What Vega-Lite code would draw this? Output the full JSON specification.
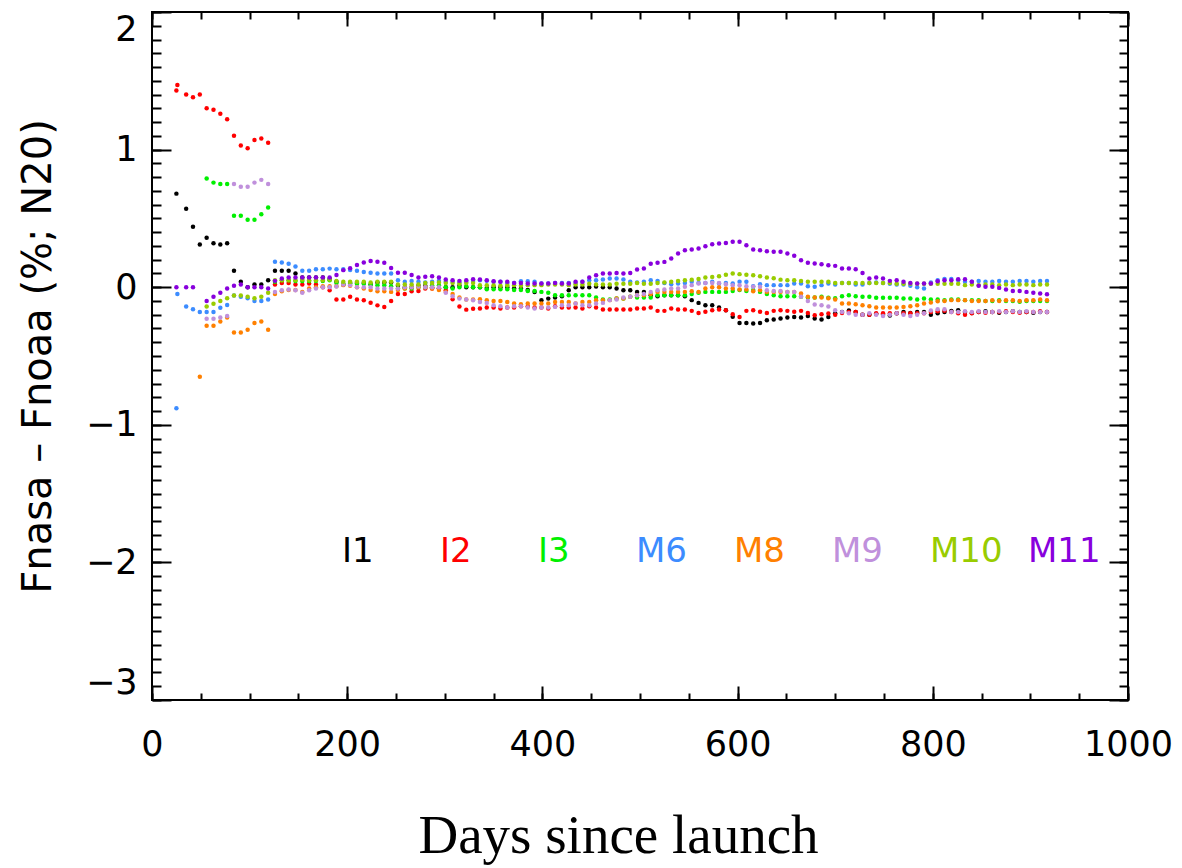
{
"$schema": "https://vega.github.io/schema/vega-lite/v6.json",
"width": 976, "height": 688,
"autosize": {"type": "none"},
"padding": {"left": 152, "top": 12, "right": 54, "bottom": 168},
"background": "white",
"config": {"view": {"stroke": "black", "strokeWidth": 2}, "font": "DejaVu Sans", "axis": {"labelColor": "black", "titleColor": "black", "labelFont": "DejaVu Sans"}},
"data": {"values": [
{"d":25,"I1":0.68,"I2":1.43,"M6":-0.88,"M11":0.0},
{"d":26,"I2":1.47,"M6":-0.05},
{"d":35,"I1":0.57,"I2":1.40,"M6":-0.14,"M11":0.0},
{"d":42,"I1":0.44,"I2":1.38,"M6":-0.16,"M11":0.0},
{"d":49,"I1":0.31,"I2":1.40,"M6":-0.18,"M8":-0.65},
{"d":56,"I1":0.36,"I2":1.30,"I3":0.79,"M6":-0.18,"M8":-0.28,"M9":-0.23,"M10":-0.14,"M11":-0.10},
{"d":63,"I1":0.32,"I2":1.29,"I3":0.76,"M6":-0.18,"M8":-0.28,"M9":-0.23,"M10":-0.12,"M11":-0.07},
{"d":70,"I1":0.31,"I2":1.26,"I3":0.75,"M6":-0.15,"M8":-0.25,"M9":-0.22,"M10":-0.10,"M11":-0.04},
{"d":77,"I1":0.32,"I2":1.22,"I3":0.75,"M6":-0.13,"M8":-0.22,"M9":-0.21,"M10":-0.08,"M11":-0.01},
{"d":84,"I1":0.12,"I2":1.10,"I3":0.52,"M6":-0.06,"M8":-0.33,"M9":0.75,"M10":-0.06,"M11":0.01},
{"d":91,"I1":0.04,"I2":1.03,"I3":0.52,"M6":-0.07,"M8":-0.33,"M9":0.73,"M10":-0.06,"M11":0.02},
{"d":98,"I1":0.0,"I2":1.01,"I3":0.49,"M6":-0.08,"M8":-0.31,"M9":0.73,"M10":-0.07,"M11":0.0},
{"d":105,"I1":0.02,"I2":1.07,"I3":0.49,"M6":-0.10,"M8":-0.26,"M9":0.76,"M10":-0.08,"M11":0.0},
{"d":112,"I1":0.02,"I2":1.08,"I3":0.53,"M6":-0.10,"M8":-0.25,"M9":0.78,"M10":-0.07,"M11":0.0},
{"d":119,"I1":0.05,"I2":1.05,"I3":0.58,"M6":-0.09,"M8":-0.31,"M9":0.75,"M10":-0.04,"M11":-0.01},
{"d":126,"I1":0.12,"I2":0.02,"I3":0.04,"M6":0.185,"M8":-0.05,"M9":-0.035,"M10":0.05,"M11":0.046},
{"d":133,"I1":0.12,"I2":0.03,"I3":0.05,"M6":0.18,"M8":-0.03,"M9":-0.022,"M10":0.05,"M11":0.063},
{"d":140,"I1":0.12,"I2":0.03,"I3":0.05,"M6":0.17,"M8":-0.02,"M9":-0.017,"M10":0.05,"M11":0.07},
{"d":147,"I1":0.10,"I2":0.02,"I3":0.045,"M6":0.15,"M8":-0.02,"M9":-0.022,"M10":0.05,"M11":0.07},
{"d":154,"I1":0.07,"I2":0.02,"I3":0.045,"M6":0.12,"M8":-0.034,"M9":-0.041,"M10":0.055,"M11":0.07},
{"d":161,"I1":0.07,"I2":0.027,"I3":0.045,"M6":0.12,"M8":-0.01,"M9":-0.022,"M10":0.05,"M11":0.07},
{"d":168,"I1":0.07,"I2":0.02,"I3":0.045,"M6":0.13,"M8":0.0,"M9":-0.01,"M10":0.05,"M11":0.07},
{"d":175,"I1":0.07,"I2":0.0,"I3":0.045,"M6":0.13,"M8":0.007,"M9":0.0,"M10":0.05,"M11":0.07},
{"d":182,"I1":0.06,"I2":-0.022,"I3":0.05,"M6":0.135,"M8":0.007,"M9":0.0,"M10":0.055,"M11":0.07},
{"d":189,"I1":0.04,"I2":-0.09,"I3":0.03,"M6":0.13,"M8":0.007,"M9":0.005,"M10":0.045,"M11":0.088},
{"d":196,"I1":0.02,"I2":-0.09,"I3":0.025,"M6":0.13,"M8":0.015,"M9":0.02,"M10":0.04,"M11":0.124},
{"d":203,"I1":0.03,"I2":-0.07,"I3":0.025,"M6":0.125,"M8":0.01,"M9":0.015,"M10":0.04,"M11":0.137},
{"d":210,"I1":0.03,"I2":-0.09,"I3":0.025,"M6":0.12,"M8":0.0,"M9":0.0,"M10":0.04,"M11":0.161},
{"d":217,"I1":0.03,"I2":-0.095,"I3":0.025,"M6":0.11,"M8":-0.01,"M9":0.0,"M10":0.04,"M11":0.18},
{"d":224,"I1":0.02,"I2":-0.113,"I3":0.02,"M6":0.105,"M8":-0.02,"M9":0.0,"M10":0.035,"M11":0.19},
{"d":231,"I1":0.035,"I2":-0.132,"I3":0.015,"M6":0.10,"M8":-0.03,"M9":-0.01,"M10":0.04,"M11":0.185},
{"d":238,"I1":0.035,"I2":-0.144,"I3":0.015,"M6":0.10,"M8":-0.03,"M9":-0.01,"M10":0.04,"M11":0.178},
{"d":245,"I1":0.035,"I2":-0.10,"I3":0.007,"M6":0.10,"M8":-0.034,"M9":-0.01,"M10":0.04,"M11":0.139},
{"d":252,"I1":0.01,"I2":-0.05,"I3":-0.01,"M6":0.05,"M8":-0.02,"M9":-0.01,"M10":0.02,"M11":0.105},
{"d":259,"I1":0.0,"I2":-0.05,"I3":-0.01,"M6":0.04,"M8":-0.01,"M9":0.0,"M10":0.02,"M11":0.105},
{"d":266,"I1":0.0,"I2":-0.03,"I3":-0.01,"M6":0.045,"M8":0.0,"M9":0.0,"M10":0.02,"M11":0.088},
{"d":273,"I1":0.01,"I2":-0.027,"I3":0.0,"M6":0.04,"M8":0.0,"M9":0.005,"M10":0.02,"M11":0.07},
{"d":280,"I1":0.01,"I2":-0.01,"I3":0.0,"M6":0.035,"M8":0.0,"M9":0.0,"M10":0.03,"M11":0.076},
{"d":287,"I1":0.0,"I2":-0.01,"I3":0.015,"M6":0.04,"M8":-0.01,"M9":0.0,"M10":0.03,"M11":0.08},
{"d":294,"I1":-0.01,"I2":-0.01,"I3":0.015,"M6":0.045,"M8":-0.02,"M9":0.0,"M10":0.035,"M11":0.07},
{"d":301,"I1":0.0,"I2":-0.022,"I3":0.0,"M6":0.04,"M8":-0.034,"M9":-0.04,"M10":0.03,"M11":0.056},
{"d":308,"I1":0.0,"I2":-0.088,"I3":-0.01,"M6":0.04,"M8":-0.05,"M9":-0.066,"M10":0.03,"M11":0.051},
{"d":315,"I1":0.01,"I2":-0.14,"I3":0.0,"M6":0.035,"M8":-0.075,"M9":-0.083,"M10":0.025,"M11":0.046},
{"d":322,"I1":0.0,"I2":-0.163,"I3":0.007,"M6":0.04,"M8":-0.09,"M9":-0.09,"M10":0.03,"M11":0.051},
{"d":329,"I1":0.0,"I2":-0.156,"I3":0.0,"M6":0.045,"M8":-0.09,"M9":-0.095,"M10":0.03,"M11":0.058},
{"d":336,"I1":0.0,"I2":-0.155,"I3":0.0,"M6":0.05,"M8":-0.087,"M9":-0.107,"M10":0.015,"M11":0.056},
{"d":343,"I1":-0.005,"I2":-0.148,"I3":-0.015,"M6":0.046,"M8":-0.094,"M9":-0.114,"M10":0.015,"M11":0.051},
{"d":350,"I1":0.0,"I2":-0.148,"I3":-0.015,"M6":0.039,"M8":-0.1,"M9":-0.131,"M10":0.015,"M11":0.044},
{"d":357,"I1":0.0,"I2":-0.155,"I3":-0.015,"M6":0.039,"M8":-0.1,"M9":-0.138,"M10":0.01,"M11":0.039},
{"d":364,"I1":0.0,"I2":-0.148,"I3":-0.015,"M6":0.031,"M8":-0.107,"M9":-0.148,"M10":0.015,"M11":0.039},
{"d":371,"I1":-0.01,"I2":-0.148,"I3":-0.02,"M6":0.031,"M8":-0.119,"M9":-0.138,"M10":0.015,"M11":0.031},
{"d":378,"I1":-0.01,"I2":-0.138,"I3":-0.02,"M6":0.044,"M8":-0.124,"M9":-0.138,"M10":0.01,"M11":0.031},
{"d":385,"I1":-0.02,"I2":-0.138,"I3":-0.027,"M6":0.044,"M8":-0.119,"M9":-0.148,"M10":0.015,"M11":0.027},
{"d":392,"I1":-0.035,"I2":-0.148,"I3":-0.027,"M6":0.039,"M8":-0.119,"M9":-0.155,"M10":0.015,"M11":0.027},
{"d":399,"I1":-0.095,"I2":-0.148,"I3":-0.034,"M6":0.027,"M8":-0.119,"M9":-0.148,"M10":0.015,"M11":0.027},
{"d":406,"I1":-0.083,"I2":-0.155,"I3":-0.041,"M6":0.027,"M8":-0.119,"M9":-0.148,"M10":0.02,"M11":0.027},
{"d":413,"I1":-0.075,"I2":-0.138,"I3":-0.058,"M6":0.031,"M8":-0.107,"M9":-0.143,"M10":0.02,"M11":0.031},
{"d":420,"I1":-0.065,"I2":-0.148,"I3":-0.058,"M6":0.031,"M8":-0.107,"M9":-0.131,"M10":0.02,"M11":0.027},
{"d":427,"I1":-0.022,"I2":-0.148,"I3":-0.058,"M6":0.031,"M8":-0.107,"M9":-0.131,"M10":0.015,"M11":0.027},
{"d":434,"I1":0.0,"I2":-0.148,"I3":-0.058,"M6":0.031,"M8":-0.119,"M9":-0.119,"M10":0.02,"M11":0.039},
{"d":441,"I1":0.0,"I2":-0.155,"I3":-0.058,"M6":0.039,"M8":-0.107,"M9":-0.131,"M10":0.02,"M11":0.039},
{"d":448,"I1":0.0,"I2":-0.138,"I3":-0.058,"M6":0.05,"M8":-0.107,"M9":-0.131,"M10":0.025,"M11":0.07},
{"d":455,"I1":0.005,"I2":-0.148,"I3":-0.075,"M6":0.05,"M8":-0.094,"M9":-0.119,"M10":0.02,"M11":0.087},
{"d":462,"I1":0.0,"I2":-0.162,"I3":-0.09,"M6":0.056,"M8":-0.094,"M9":-0.114,"M10":0.02,"M11":0.10},
{"d":469,"I1":0.0,"I2":-0.162,"I3":-0.09,"M6":0.063,"M8":-0.094,"M9":-0.094,"M10":0.02,"M11":0.10},
{"d":476,"I1":-0.01,"I2":-0.162,"I3":-0.082,"M6":0.063,"M8":-0.082,"M9":-0.09,"M10":0.025,"M11":0.104},
{"d":483,"I1":-0.022,"I2":-0.162,"I3":-0.082,"M6":0.056,"M8":-0.082,"M9":-0.075,"M10":0.025,"M11":0.10},
{"d":490,"I1":-0.022,"I2":-0.162,"I3":-0.07,"M6":0.039,"M8":-0.07,"M9":-0.07,"M10":0.025,"M11":0.104},
{"d":497,"I1":-0.034,"I2":-0.155,"I3":-0.075,"M6":0.034,"M8":-0.058,"M9":-0.058,"M10":0.03,"M11":0.128},
{"d":504,"I1":-0.034,"I2":-0.155,"I3":-0.075,"M6":0.039,"M8":-0.058,"M9":-0.05,"M10":0.025,"M11":0.136},
{"d":511,"I1":-0.058,"I2":-0.148,"I3":-0.075,"M6":0.05,"M8":-0.05,"M9":-0.034,"M10":0.025,"M11":0.17},
{"d":518,"I1":-0.065,"I2":-0.172,"I3":-0.058,"M6":0.046,"M8":-0.034,"M9":-0.022,"M10":0.03,"M11":0.177},
{"d":525,"I1":-0.058,"I2":-0.172,"I3":-0.058,"M6":0.031,"M8":-0.034,"M9":-0.017,"M10":0.035,"M11":0.184},
{"d":532,"I1":-0.058,"I2":-0.155,"I3":-0.058,"M6":0.022,"M8":-0.034,"M9":-0.01,"M10":0.04,"M11":0.208},
{"d":539,"I1":-0.058,"I2":-0.162,"I3":-0.058,"M6":0.027,"M8":-0.034,"M9":-0.01,"M10":0.045,"M11":0.245},
{"d":546,"I1":-0.065,"I2":-0.162,"I3":-0.058,"M6":0.031,"M8":-0.034,"M9":0.003,"M10":0.05,"M11":0.269},
{"d":553,"I1":-0.094,"I2":-0.172,"I3":-0.05,"M6":0.039,"M8":-0.029,"M9":0.015,"M10":0.055,"M11":0.274},
{"d":560,"I1":-0.114,"I2":-0.187,"I3":-0.041,"M6":0.031,"M8":-0.034,"M9":0.027,"M10":0.06,"M11":0.281},
{"d":567,"I1":-0.131,"I2":-0.179,"I3":-0.034,"M6":0.031,"M8":-0.01,"M9":0.031,"M10":0.07,"M11":0.298},
{"d":574,"I1":-0.131,"I2":-0.167,"I3":-0.034,"M6":0.039,"M8":0.0,"M9":0.031,"M10":0.075,"M11":0.312},
{"d":581,"I1":-0.148,"I2":-0.162,"I3":-0.034,"M6":0.027,"M8":0.0,"M9":0.031,"M10":0.08,"M11":0.317},
{"d":588,"I1":-0.167,"I2":-0.167,"I3":-0.034,"M6":0.031,"M8":-0.01,"M9":0.022,"M10":0.09,"M11":0.322},
{"d":595,"I1":-0.215,"I2":-0.196,"I3":-0.027,"M6":0.027,"M8":-0.01,"M9":0.015,"M10":0.10,"M11":0.33},
{"d":602,"I1":-0.26,"I2":-0.216,"I3":-0.02,"M6":0.039,"M8":-0.017,"M9":0.015,"M10":0.095,"M11":0.33},
{"d":609,"I1":-0.26,"I2":-0.172,"I3":-0.027,"M6":0.039,"M8":-0.017,"M9":0.007,"M10":0.09,"M11":0.305},
{"d":616,"I1":-0.264,"I2":-0.167,"I3":-0.02,"M6":0.007,"M8":-0.029,"M9":0.003,"M10":0.087,"M11":0.274},
{"d":623,"I1":-0.26,"I2":-0.179,"I3":-0.034,"M6":0.022,"M8":-0.022,"M9":0.003,"M10":0.08,"M11":0.269},
{"d":630,"I1":-0.24,"I2":-0.187,"I3":-0.05,"M6":0.015,"M8":-0.034,"M9":-0.022,"M10":0.07,"M11":0.262},
{"d":637,"I1":-0.235,"I2":-0.172,"I3":-0.058,"M6":0.015,"M8":-0.034,"M9":-0.027,"M10":0.065,"M11":0.257},
{"d":644,"I1":-0.228,"I2":-0.167,"I3":-0.065,"M6":0.015,"M8":-0.034,"M9":-0.027,"M10":0.055,"M11":0.257},
{"d":651,"I1":-0.22,"I2":-0.172,"I3":-0.065,"M6":0.015,"M8":-0.034,"M9":-0.034,"M10":0.05,"M11":0.245},
{"d":658,"I1":-0.216,"I2":-0.179,"I3":-0.065,"M6":0.027,"M8":-0.034,"M9":-0.034,"M10":0.05,"M11":0.228},
{"d":665,"I1":-0.22,"I2":-0.172,"I3":-0.07,"M6":0.027,"M8":-0.046,"M9":-0.07,"M10":0.045,"M11":0.196},
{"d":672,"I1":-0.21,"I2":-0.187,"I3":-0.075,"M6":0.007,"M8":-0.07,"M9":-0.1,"M10":0.04,"M11":0.177},
{"d":679,"I1":-0.228,"I2":-0.204,"I3":-0.075,"M6":0.003,"M8":-0.075,"M9":-0.125,"M10":0.04,"M11":0.172},
{"d":686,"I1":-0.235,"I2":-0.196,"I3":-0.07,"M6":0.015,"M8":-0.075,"M9":-0.131,"M10":0.04,"M11":0.167},
{"d":693,"I1":-0.216,"I2":-0.191,"I3":-0.077,"M6":0.027,"M8":-0.08,"M9":-0.14,"M10":0.04,"M11":0.16},
{"d":700,"I1":-0.19,"I2":-0.2,"I3":-0.08,"M6":0.02,"M8":-0.09,"M9":-0.167,"M10":0.03,"M11":0.155},
{"d":707,"I1":-0.18,"I2":-0.187,"I3":-0.065,"M6":0.03,"M8":-0.119,"M9":-0.18,"M10":0.03,"M11":0.136},
{"d":714,"I1":-0.17,"I2":-0.18,"I3":-0.058,"M6":0.03,"M8":-0.119,"M9":-0.19,"M10":0.03,"M11":0.136},
{"d":721,"I1":-0.18,"I2":-0.18,"I3":-0.065,"M6":0.02,"M8":-0.124,"M9":-0.2,"M10":0.03,"M11":0.131},
{"d":728,"I1":-0.2,"I2":-0.2,"I3":-0.07,"M6":0.02,"M8":-0.131,"M9":-0.2,"M10":0.03,"M11":0.104},
{"d":735,"I1":-0.2,"I2":-0.2,"I3":-0.07,"M6":0.03,"M8":-0.138,"M9":-0.19,"M10":0.03,"M11":0.063},
{"d":742,"I1":-0.195,"I2":-0.19,"I3":-0.077,"M6":0.035,"M8":-0.148,"M9":-0.2,"M10":0.03,"M11":0.07},
{"d":749,"I1":-0.2,"I2":-0.19,"I3":-0.077,"M6":0.03,"M8":-0.148,"M9":-0.21,"M10":0.03,"M11":0.063},
{"d":756,"I1":-0.205,"I2":-0.19,"I3":-0.077,"M6":0.025,"M8":-0.148,"M9":-0.2,"M10":0.03,"M11":0.046},
{"d":763,"I1":-0.19,"I2":-0.19,"I3":-0.077,"M6":0.02,"M8":-0.148,"M9":-0.19,"M10":0.025,"M11":0.05},
{"d":770,"I1":-0.18,"I2":-0.19,"I3":-0.082,"M6":0.02,"M8":-0.143,"M9":-0.2,"M10":0.025,"M11":0.039},
{"d":777,"I1":-0.187,"I2":-0.19,"I3":-0.082,"M6":0.01,"M8":-0.138,"M9":-0.21,"M10":0.025,"M11":0.031},
{"d":784,"I1":-0.18,"I2":-0.19,"I3":-0.09,"M6":0.0,"M8":-0.131,"M9":-0.2,"M10":0.025,"M11":0.027},
{"d":791,"I1":-0.18,"I2":-0.19,"I3":-0.082,"M6":-0.01,"M8":-0.119,"M9":-0.19,"M10":0.025,"M11":0.027},
{"d":798,"I1":-0.2,"I2":-0.18,"I3":-0.09,"M6":0.035,"M8":-0.111,"M9":-0.17,"M10":0.025,"M11":0.027},
{"d":805,"I1":-0.19,"I2":-0.175,"I3":-0.09,"M6":0.05,"M8":-0.102,"M9":-0.16,"M10":0.025,"M11":0.044},
{"d":812,"I1":-0.18,"I2":-0.172,"I3":-0.094,"M6":0.06,"M8":-0.1,"M9":-0.16,"M10":0.025,"M11":0.05},
{"d":819,"I1":-0.172,"I2":-0.18,"I3":-0.09,"M6":0.06,"M8":-0.094,"M9":-0.18,"M10":0.025,"M11":0.05},
{"d":826,"I1":-0.167,"I2":-0.19,"I3":-0.09,"M6":0.05,"M8":-0.094,"M9":-0.18,"M10":0.025,"M11":0.058},
{"d":833,"I1":-0.18,"I2":-0.2,"I3":-0.094,"M6":0.04,"M8":-0.094,"M9":-0.175,"M10":0.015,"M11":0.058},
{"d":840,"I1":-0.187,"I2":-0.19,"I3":-0.094,"M6":0.04,"M8":-0.1,"M9":-0.18,"M10":0.02,"M11":0.039},
{"d":847,"I1":-0.18,"I2":-0.18,"I3":-0.094,"M6":0.045,"M8":-0.1,"M9":-0.175,"M10":0.015,"M11":0.01},
{"d":854,"I1":-0.175,"I2":-0.185,"I3":-0.1,"M6":0.04,"M8":-0.1,"M9":-0.18,"M10":0.02,"M11":0.003},
{"d":861,"I1":-0.18,"I2":-0.18,"I3":-0.1,"M6":0.04,"M8":-0.095,"M9":-0.18,"M10":0.02,"M11":0.003},
{"d":868,"I1":-0.185,"I2":-0.18,"I3":-0.095,"M6":0.045,"M8":-0.1,"M9":-0.175,"M10":0.015,"M11":-0.005},
{"d":875,"I1":-0.18,"I2":-0.175,"I3":-0.1,"M6":0.04,"M8":-0.095,"M9":-0.18,"M10":0.02,"M11":-0.017},
{"d":882,"I1":-0.175,"I2":-0.18,"I3":-0.1,"M6":0.04,"M8":-0.095,"M9":-0.175,"M10":0.015,"M11":-0.027},
{"d":889,"I1":-0.18,"I2":-0.185,"I3":-0.105,"M6":0.045,"M8":-0.1,"M9":-0.18,"M10":0.02,"M11":-0.027},
{"d":896,"I1":-0.18,"I2":-0.18,"I3":-0.1,"M6":0.045,"M8":-0.095,"M9":-0.175,"M10":0.02,"M11":-0.034},
{"d":903,"I1":-0.185,"I2":-0.18,"I3":-0.1,"M6":0.04,"M8":-0.095,"M9":-0.18,"M10":0.015,"M11":-0.041},
{"d":910,"I1":-0.18,"I2":-0.175,"I3":-0.1,"M6":0.045,"M8":-0.09,"M9":-0.18,"M10":0.02,"M11":-0.046},
{"d":917,"I1":-0.18,"I2":-0.18,"I3":-0.1,"M6":0.045,"M8":-0.095,"M9":-0.18,"M10":0.02,"M11":-0.051}
]},
"transform": [
  {"fold": ["I1","I2","I3","M6","M8","M9","M10","M11"], "as": ["band","v"]},
  {"filter": "isValid(datum.v)"}
],
"layer": [
  {
    "mark": {"type": "point", "filled": true, "shape": "circle", "size": 20, "opacity": 1},
    "encoding": {
      "x": {"field": "d", "type": "quantitative",
        "scale": {"domain": [0,1000], "nice": false, "zero": false},
        "axis": {"orient": "bottom", "values": [0,200,400,600,800,1000], "format": "d",
          "labelFontSize": 35, "labelPadding": 27, "labelFlush": false, "labelOverlap": false,
          "ticks": false, "tickSize": 0, "domain": false,
          "grid": true, "gridColor": "black", "gridWidth": 2, "gridOpacity": 1, "gridDash": [14,660],
          "title": "Days since launch", "titleFont": "Liberation Serif", "titleFontSize": 55, "titleFontWeight": "normal",
          "titleX": 466, "titleY": 152, "titleBaseline": "alphabetic", "titleAlign": "center"}},
      "y": {"field": "v", "type": "quantitative",
        "scale": {"domain": [-3,2], "nice": false, "zero": false},
        "axis": {"orient": "left", "values": [-3,-2,-1,0,1,2],
          "labelExpr": "datum.value < 0 ? '\u2212' + format(-datum.value, 'd') : format(datum.value, 'd')",
          "labelFontSize": 35, "labelPadding": 15, "labelOverlap": false, "labelFlush": true, "labelFlushOffset": 0,
          "ticks": false, "tickSize": 0, "domain": false,
          "grid": true, "gridColor": "black", "gridWidth": 2, "gridOpacity": 1, "gridDash": [19,938],
          "title": "Fnasa \u2013 Fnoaa (%; N20)", "titleFontSize": 40, "titleFontWeight": "normal",
          "titleX": -114, "titleY": 344, "titleAngle": 270, "titleBaseline": "middle", "titleAlign": "center"}},
      "color": {"field": "band", "type": "nominal",
        "scale": {"domain": ["I1","I2","I3","M6","M8","M9","M10","M11"],
                  "range": ["#000000","#ff0000","#00f000","#3c8cff","#ff8000","#c090dc","#99cc00","#8800dd"]},
        "legend": {"orient": "none", "legendX": 192, "legendY": 523, "direction": "horizontal", "columns": 8,
          "gridAlign": "all", "columnPadding": 25, "title": null, "symbolSize": 0, "symbolStrokeWidth": 0,
          "symbolOpacity": 0, "labelOffset": -36, "labelFontSize": 34, "labelFont": "DejaVu Sans", "padding": 0,
          "encode": {"labels": {"update": {"fill": {"scale": "color", "field": "value"}}}}}}
    }
  },
  {
    "mark": {"type": "point", "opacity": 0},
    "encoding": {
      "x": {"field": "d", "type": "quantitative",
        "scale": {"domain": [0,1000], "nice": false, "zero": false},
        "axis": {"orient": "top", "values": [0,50,100,150,200,250,300,350,400,450,500,550,600,650,700,750,800,850,900,950,1000],
          "labels": false, "ticks": false, "domain": false, "title": null,
          "grid": true, "gridColor": "black", "gridWidth": 2, "gridOpacity": 1, "gridDash": [7,674]}},
      "y": {"field": "v", "type": "quantitative",
        "scale": {"domain": [-3,2], "nice": false, "zero": false},
        "axis": {"orient": "right", "values": [-3,-2.9,-2.8,-2.7,-2.6,-2.5,-2.4,-2.3,-2.2,-2.1,-2,-1.9,-1.8,-1.7,-1.6,-1.5,-1.4,-1.3,-1.2,-1.1,-1,-0.9,-0.8,-0.7,-0.6,-0.5,-0.4,-0.3,-0.2,-0.1,0,0.1,0.2,0.3,0.4,0.5,0.6,0.7,0.8,0.9,1,1.1,1.2,1.3,1.4,1.5,1.6,1.7,1.8,1.9,2],
          "labels": false, "ticks": false, "domain": false, "title": null,
          "grid": true, "gridColor": "black", "gridWidth": 2, "gridOpacity": 1, "gridDash": [9,958]}}
    }
  }
],
"resolve": {"axis": {"x": "independent", "y": "independent"}}
}
